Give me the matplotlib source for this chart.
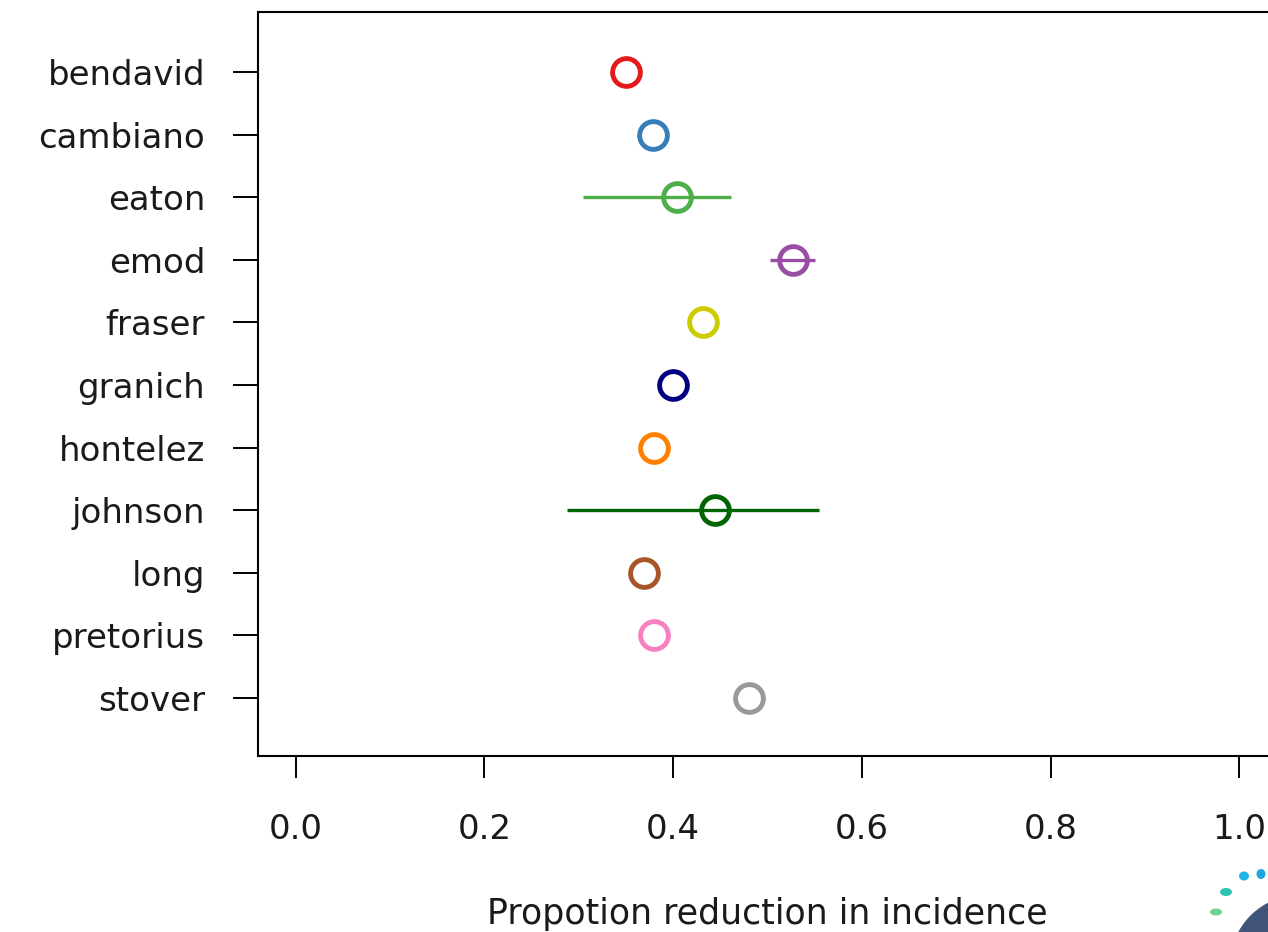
import matplotlib
matplotlib.use("Agg")
import matplotlib.pyplot as plt
from matplotlib.patches import Ellipse

models = ["bendavid", "cambiano", "eaton", "emod", "fraser", "granich",
          "hontelez", "johnson", "long", "pretorius", "stover"]
estimates = [0.350, 0.379, 0.404, 0.527, 0.432, 0.400, 0.380, 0.444, 0.369, 0.380, 0.480]
ci_low = [None, None, 0.304, 0.503, None, None, None, 0.287, None, None, None]
ci_high = [None, None, 0.461, 0.550, None, None, None, 0.555, None, None, None]
colors = ["#E41A1C", "#377EB8", "#4DAF4A", "#984EA3", "#CCCC00", "#000080",
          "#FF7F00", "#006400", "#A65628", "#F781BF", "#999999"]
xticks = [0.0, 0.2, 0.4, 0.6, 0.8, 1.0]
xlabel = "Propotion reduction in incidence"

plt.rcParams['font.family'] = ['DejaVu Sans']
W, H = 1268, 932
fig = plt.figure(figsize=(W / 100, H / 100), dpi=100)
ax = fig.add_axes([258 / W, 1 - 756 / H, (1277 - 258) / W, (756 - 12) / H])

ypos = list(range(1, len(models) + 1))
for y, est, lo, hi, c in zip(ypos, estimates, ci_low, ci_high, colors):
    if lo is not None:
        ax.plot([lo, hi], [y, y], color=c, lw=2.4, solid_capstyle='butt', zorder=2)
    ax.plot([est], [y], marker='o', markersize=20, markerfacecolor='none',
            markeredgecolor=c, markeredgewidth=3.5, linestyle='none', zorder=3)

ax.set_xlim(-0.04, 1.04)
ax.set_ylim(11.93, 0.04)
ax.set_yticks(ypos)
ax.set_yticklabels(models, fontsize=24.5, color='#1a1a1a')
ax.set_xticks(xticks)
ax.set_xticklabels([f"{v:.1f}" for v in xticks], fontsize=24.5, color='#1a1a1a')
ax.tick_params(axis='y', direction='out', length=18, width=1.4, pad=20)
ax.tick_params(axis='x', direction='out', length=16, width=1.4, pad=25)
for s in ax.spines.values():
    s.set_linewidth(1.5)
ax.set_xlabel(xlabel, fontsize=25, color='#1a1a1a', labelpad=37)

# partial logo at bottom-right corner
fig.patches.append(Ellipse((1300 / W, 1 - 965 / H), 140 / W, 140 / H, transform=fig.transFigure,
                           facecolor='#3f5478', edgecolor='none', figure=fig))
for (px, py, col, w, h) in [(1216, 912, '#6fcf97', 12, 7), (1226, 892, '#2fc4b2', 12, 8),
                            (1244, 876, '#1fb5e8', 10, 9), (1261, 874, '#1aa7e0', 9, 10)]:
    fig.patches.append(Ellipse((px / W, 1 - py / H), w / W, h / H, transform=fig.transFigure,
                               facecolor=col, edgecolor='none', figure=fig))

fig.savefig("out.png", dpi=100)
